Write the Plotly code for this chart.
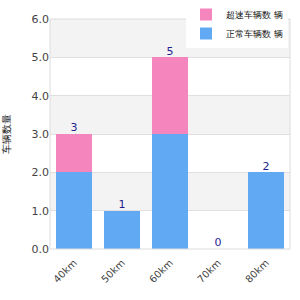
import plotly.graph_objects as go

categories = ["40km", "50km", "60km", "70km", "80km"]
series_a = [2, 1, 3, 0, 2]   # blue (bottom)
series_b = [1, 0, 2, 0, 0]   # pink (top)
totals = [a + b for a, b in zip(series_a, series_b)]
name_a = "正常车辆数 辆"
name_b = "超速车辆数 辆"
y_title = "车辆数量"
y_ticks = [0, 1, 2, 3, 4, 5, 6]

fig = go.Figure()
fig.add_trace(go.Bar(x=categories, y=series_a, name=name_a,
                     marker=dict(color="#62a9f4", line=dict(width=0))))
fig.add_trace(go.Bar(x=categories, y=series_b, name=name_b,
                     marker=dict(color="#f485bd", line=dict(width=0))))
fig.add_trace(go.Scatter(x=categories, y=totals, mode="text",
                         text=[str(t) for t in totals], textposition="top center",
                         textfont=dict(color="#1f1f8f", size=11, family="DejaVu Sans"),
                         showlegend=False, hoverinfo="skip", cliponaxis=False))

shapes = []
for lo in [1, 3, 5]:
    shapes.append(dict(type="rect", xref="paper", yref="y", x0=0, x1=1, y0=lo, y1=lo + 1,
                       fillcolor="#f3f3f3", line=dict(width=0), layer="below"))
shapes.append(dict(type="rect", xref="paper", yref="paper", x0=0, x1=1, y0=0, y1=1,
                   line=dict(color="#dcdcdc", width=1), layer="above"))

fig.update_layout(
    width=300, height=300,
    margin=dict(l=50, r=10, t=19, b=51, autoexpand=False),
    paper_bgcolor="white", plot_bgcolor="white",
    barmode="stack", bargap=0.27,
    shapes=shapes,
    font=dict(family="DejaVu Sans", size=11, color="#444444"),
    showlegend=True,
    legend=dict(traceorder="reversed", x=0.96, xanchor="right", y=1.005, yanchor="top",
                xref="container", yref="container", bgcolor="white",
                font=dict(size=9, color="#111111"), itemwidth=30,
                tracegroupgap=0, itemsizing="constant"),
    xaxis=dict(tickangle=-45, showgrid=False, ticks="", tickfont=dict(size=10, color="#444444"),
               zeroline=False, automargin=False, ticklabelstandoff=5),
    yaxis=dict(range=[0, 6], tickvals=y_ticks, ticktext=[f"{v:.1f}" for v in y_ticks],
               showgrid=True, gridcolor="#e0e0e0", zeroline=False, automargin=False,
               tickfont=dict(size=11, color="#444444"),
               title=dict(text=y_title, font=dict(size=10, color="#222222"), standoff=19)),
)

fig.write_html("out.html")
